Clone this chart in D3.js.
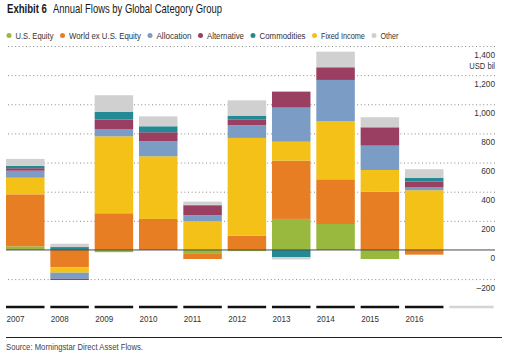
<!DOCTYPE html>
<html>
<head>
<meta charset="utf-8">
<script src="https://cdn.jsdelivr.net/npm/d3@7"></script>
<style>
  html, body { margin: 0; padding: 0; background: #fff; }
  svg { display: block; font-family: "Liberation Sans", Arial, sans-serif; }
</style>
</head>
<body>
<svg id="chart" width="519" height="359"></svg>
<script>
// ---------------- data ----------------
const years = ["2007", "2008", "2009", "2010", "2011", "2012", "2013", "2014", "2015", "2016"];
const usEquity     = [25, 0, -15, 0, -27, -8, 213, 178, -62, 0];
const worldExUS    = [357, -119, 252, 213, -35, 98, 400, 307, 400, -32];
const fixedIncome  = [114, -37, 528, 430, 197, 671, 130, 400, 149, 410];
const allocation   = [48, -42, 50, 103, 41, 87, 234, 282, 167, 22];
const alternative  = [17, -8, 65, 62, 66, 38, 110, 87, 126, 37];
const commodities  = [16, 20, 52, 41, 6, 28, -50, 0, 0, 27];
const other        = [48, 23, 115, 68, 22, 105, -15, 107, 69, 58];
const yTicks = [-200, 0, 200, 400, 600, 800, 1000, 1200, 1400];

// series in stacking order (bottom to top)
const series = [
  { key: "U.S. Equity", values: usEquity, color: "#98b93d" },
  { key: "World ex U.S. Equity", values: worldExUS, color: "#e87e24" },
  { key: "Fixed Income", values: fixedIncome, color: "#f3c117" },
  { key: "Allocation", values: allocation, color: "#7b9cc4" },
  { key: "Alternative", values: alternative, color: "#9a3e62" },
  { key: "Commodities", values: commodities, color: "#238a94" },
  { key: "Other", values: other, color: "#d0d0d0" }
];
const legendOrder = ["U.S. Equity", "World ex U.S. Equity", "Allocation", "Alternative", "Commodities", "Fixed Income", "Other"];

// ---------------- layout ----------------
const svg = d3.select("#chart");
const legendWidths = { "U.S. Equity": 38, "World ex U.S. Equity": 72, "Allocation": 35, "Alternative": 37, "Commodities": 46, "Fixed Income": 44, "Other": 18 };

const rows = years.map((yr, i) => {
  const r = { year: yr };
  series.forEach(s => r[s.key] = s.values[i]);
  return r;
});

const x = d3.scaleBand().domain([...years, ""]).range([6, 487.8]).paddingInner(0.1315).paddingOuter(0);
const y = d3.scaleLinear().domain([-200, 1400]).range([279.1, 46]);

// squeeze a text horizontally to a target width with a transform
function squeeze(sel, tx, ty, width) {
  const n = sel.node().getComputedTextLength();
  sel.attr("x", 0).attr("y", 0).attr("transform", `translate(${tx},${ty}) scale(${width / n},1)`);
}

// title
squeeze(svg.append("text").attr("font-size", 13).attr("fill", "#1a1a1a")
  .attr("font-weight", "bold").text("Exhibit 6"), 7, 12.7, 40);
squeeze(svg.append("text").attr("font-size", 13).attr("fill", "#1a1a1a")
  .text("Annual Flows by Global Category Group"), 53, 12.7, 169);

// legend
const colorOf = Object.fromEntries(series.map(s => [s.key, s.color]));
let lx = 9;
legendOrder.forEach(k => {
  svg.append("circle").attr("cx", lx).attr("cy", 35.6).attr("r", 2.5).attr("fill", colorOf[k]);
  squeeze(svg.append("text").attr("font-size", 9).attr("fill", "#333").text(k), lx + 6.5, 38.6, legendWidths[k]);
  lx = lx + 6.5 + legendWidths[k] + 9;
});

// grid + y labels
const yAxis = d3.axisLeft(y).tickValues(yTicks).tickSize(489)
  .tickFormat(d => d < 0 ? "\u2013" + Math.abs(d) : d3.format(",")(d));
const gy = svg.append("g").attr("transform", "translate(495,0)").call(yAxis);
gy.select(".domain").remove();
gy.selectAll(".tick line")
  .attr("stroke", d => d === 0 ? "none" : "#8a8a8a")
  .attr("stroke-width", 1)
  .attr("stroke-dasharray", "1,2.6");
gy.selectAll(".tick text")
  .attr("x", 0).attr("dy", null).attr("y", 11)
  .attr("text-anchor", "end").attr("font-size", 9.5).attr("fill", "#333").attr("font-family", null)
  .each(function () { const w = this.getComputedTextLength(); d3.select(this).attr("textLength", w * 0.87).attr("lengthAdjust", "spacingAndGlyphs"); });
gy.select(".tick:last-of-type").append("text").attr("x", 0).attr("y", 22)
  .attr("text-anchor", "end").attr("font-size", 9.5).attr("fill", "#333")
  .text("USD bil").attr("textLength", 25.7).attr("lengthAdjust", "spacingAndGlyphs");

// bars
const stack = d3.stack().keys(series.map(s => s.key)).offset(d3.stackOffsetDiverging);
const stacked = stack(rows);
svg.append("g").selectAll("g").data(stacked).join("g")
  .attr("fill", d => colorOf[d.key])
  .selectAll("rect").data(d => d).join("rect")
  .attr("x", d => x(d.data.year))
  .attr("width", x.bandwidth())
  .attr("y", d => y(Math.max(d[0], d[1])))
  .attr("height", d => Math.abs(y(d[0]) - y(d[1])));

// zero line
svg.append("line").attr("x1", 6).attr("x2", 495).attr("y1", y(0)).attr("y2", y(0))
  .attr("stroke", "#4a4a4a").attr("stroke-width", 1);

// x axis baselines and labels
const xg = svg.append("g");
xg.selectAll("line").data(x.domain()).join("line")
  .attr("x1", d => x(d))
  .attr("x2", d => d === "" ? x(d) + x.step() : x(d) + x.bandwidth())
  .attr("y1", 307).attr("y2", 307)
  .attr("stroke", d => d === "" ? "#d4d4d4" : "#111")
  .attr("stroke-width", 2.3);
xg.selectAll("text").data(years).join("text")
  .attr("x", d => x(d) + 0.5).attr("y", 321.5)
  .attr("font-size", 9.3).attr("fill", "#333").text(d => d)
  .each(function () { const w = this.getComputedTextLength(); d3.select(this).attr("textLength", w * 0.87).attr("lengthAdjust", "spacingAndGlyphs"); });

// source
svg.append("line").attr("x1", 6).attr("x2", 502).attr("y1", 337.5).attr("y2", 337.5).attr("stroke", "#222").attr("stroke-width", 1);
squeeze(svg.append("text").attr("font-size", 8.5).attr("fill", "#444")
  .text("Source: Morningstar Direct Asset Flows."), 6, 350, 137);
</script>
</body>
</html>
